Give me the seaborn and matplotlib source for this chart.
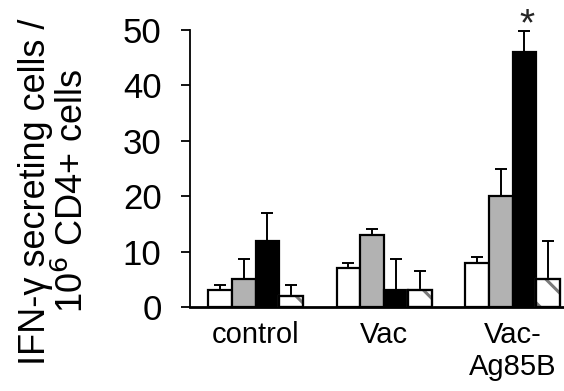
import numpy as np
import pandas as pd
import seaborn as sns
import matplotlib
matplotlib.use('Agg')
import matplotlib.pyplot as plt
from matplotlib.patches import Rectangle

groups = ['control', 'Vac', 'Vac-\nAg85B']
series = ['s1', 's2', 's3', 's4']
s1_mean = [3, 7, 8]
s1_err = [1, 1, 1]
s2_mean = [5, 13, 20]
s2_err = [3.6, 1.1, 5]
s3_mean = [12, 3, 46]
s3_err = [4.9, 5.6, 3.8]
s4_mean = [2, 3, 5]
s4_err = [2, 3.5, 7]
colors = ['white', '#b2b2b2', 'black', 'white']

means = [s1_mean, s2_mean, s3_mean, s4_mean]
errs = [s1_err, s2_err, s3_err, s4_err]

df = pd.DataFrame({
    'group': [g for s in series for g in groups],
    'series': [s for s in series for g in groups],
    'value': [v for m in means for v in m],
})

sns.set_theme(style='white')
plt.rcParams['font.family'] = ['Liberation Sans', 'DejaVu Sans']
plt.rcParams['hatch.linewidth'] = 2.2

fig = plt.figure(figsize=(5.64, 3.91), dpi=100)
ax = fig.add_axes([190 / 564, 1 - 307 / 391, 374 / 564, 277 / 391])

sns.barplot(data=df, x='group', y='value', hue='series', order=groups,
            hue_order=series, palette=colors, width=0.74, errorbar=None,
            edgecolor='black', linewidth=1.6, legend=False, ax=ax, zorder=3)

bar_conts = list(ax.containers)
for i, cont in enumerate(bar_conts):
    xs = [p.get_x() + p.get_width() / 2 for p in cont]
    ax.errorbar(xs, means[i], yerr=[np.zeros(3), errs[i]], fmt='none',
                ecolor='black', elinewidth=1.4, capsize=4, capthick=1.4,
                zorder=2)
    if i == 3:
        # hatch takes the edge colour, so redraw a black outline on top
        for p in cont:
            p.set_hatch('\\')
            p.set_edgecolor('#7a7a7a')
            ax.add_patch(Rectangle(p.get_xy(), p.get_width(), p.get_height(),
                                   fill=False, edgecolor='black',
                                   linewidth=1.6, zorder=4))

# significance marker over the black Vac-Ag85B bar
star_bar = bar_conts[2][2]
ax.text(star_bar.get_x() + star_bar.get_width() / 2 + 0.02, 50.9, '*',
        ha='center', va='center', fontsize=28, clip_on=False)

ax.set_ylim(0, 50)
ax.set_xlim(-0.51, 2.40)
ax.set_yticks([0, 10, 20, 30, 40, 50])
ax.tick_params(axis='y', labelsize=25, length=6.5, width=1.3, direction='out',
               left=True, pad=14, colors='black')
ax.tick_params(axis='x', labelsize=21, length=0, pad=10, colors='black')
ax.set_xlabel('')
ax.set_ylabel('IFN-γ secreting cells /\n10$^6$ CD4+ cells', fontsize=26,
              linespacing=1.05, color='black')
ax.yaxis.set_label_coords(-0.265, 0.417)
for s in ['top', 'right']:
    ax.spines[s].set_visible(False)
ax.spines['left'].set_linewidth(1.3)
ax.spines['bottom'].set_linewidth(2)
ax.spines['left'].set_color('black')
ax.spines['bottom'].set_color('black')

fig.savefig('out.png', dpi=100)
